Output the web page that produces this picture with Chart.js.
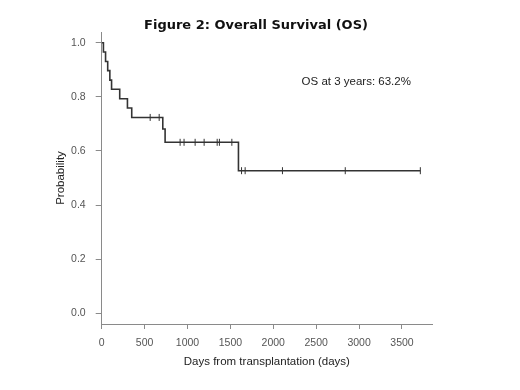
<!DOCTYPE html>
<html>
<head>
<meta charset="utf-8">
<script src="https://cdn.jsdelivr.net/npm/chart.js@4"></script>
<style>
  body { margin: 0; background: #ffffff; }
</style>
</head>
<body>
<canvas id="myChart" width="520" height="390"></canvas>
<script>
const eventDays = [0, 20, 45, 70, 95, 115, 210, 300, 350, 712, 739, 1594, 3714];
const survival = [1.0, 0.966, 0.931, 0.897, 0.862, 0.828, 0.793, 0.759, 0.724, 0.681, 0.632, 0.527, 0.527];

const censorDays = [565, 670, 914, 960, 1089, 1194, 1346, 1372, 1517, 1630, 1672, 2107, 2839, 3714];
const censorSurv = [0.724, 0.724, 0.632, 0.632, 0.632, 0.632, 0.632, 0.632, 0.632, 0.527, 0.527, 0.527, 0.527, 0.527];

const xTicks = [0, 500, 1000, 1500, 2000, 2500, 3000, 3500];
const yTicks = [0, 0.2, 0.4, 0.6, 0.8, 1.0];

const titleText = 'Figure 2: Overall Survival (OS)';
const noteText = 'OS at 3 years: 63.2%';

const axisGrey = '#8a8a8a';
const lineColor = '#333333';

// title + note drawn on top, note placed through the scales
const textPlugin = {
    id: 'textLayer',
    afterDraw(chart) {
        const ctx = chart.ctx;
        const { x, y } = chart.scales;
        ctx.save();
        ctx.fillStyle = '#111111';
        ctx.font = 'bold 13px "DejaVu Sans"';
        ctx.textAlign = 'center';
        ctx.textBaseline = 'middle';
        ctx.fillText(titleText, 256, 26);

        ctx.fillStyle = '#222222';
        ctx.font = '11.5px "Liberation Sans"';
        ctx.textAlign = 'left';
        ctx.fillText(noteText, x.getPixelForValue(2330), y.getPixelForValue(0.855));
        ctx.restore();
    }
};

const data = {
    datasets: [
        {
            label: 'OS',
            data: eventDays.map((d, i) => ({ x: d, y: survival[i] })),
            borderColor: lineColor,
            borderWidth: 1.6,
            stepped: true,
            pointRadius: 0,
            fill: false
        },
        {
            label: 'Censored',
            type: 'scatter',
            data: censorDays.map((d, i) => ({ x: d, y: censorSurv[i] })),
            pointStyle: 'line',
            rotation: 90,
            pointRadius: 3.5,
            borderColor: lineColor,
            borderWidth: 1,
            backgroundColor: lineColor
        }
    ]
};

const config = {
    type: 'line',
    data: data,
    options: {
        responsive: false,
        animation: false,
        layout: {
            padding: { top: 32, left: 54, right: 88, bottom: 21 }
        },
        scales: {
            x: {
                type: 'linear',
                min: 0,
                max: 3850,
                afterBuildTicks: scale => { scale.ticks = xTicks.map(v => ({ value: v })); },
                afterFit: scale => { scale.height = 45; },
                ticks: {
                    color: '#555555',
                    font: { family: '"Liberation Sans"', size: 10.5 },
                    padding: 8,
                    maxRotation: 0,
                    callback: v => String(v)
                },
                grid: {
                    drawOnChartArea: false,
                    drawTicks: true,
                    tickLength: 5,
                    color: axisGrey
                },
                border: { display: true, color: axisGrey, width: 1 },
                title: {
                    display: true,
                    text: 'Days from transplantation (days)',
                    color: '#222222',
                    font: { family: '"Liberation Sans"', size: 11.5 },
                    padding: { top: 0, bottom: 0 }
                }
            },
            y: {
                type: 'linear',
                min: -0.04,
                max: 1.04,
                afterBuildTicks: scale => { scale.ticks = yTicks.map(v => ({ value: v })); },
                afterFit: scale => { scale.width = 47.7; },
                ticks: {
                    color: '#555555',
                    font: { family: '"Liberation Sans"', size: 10.5 },
                    padding: 10,
                    callback: v => v.toFixed(1)
                },
                grid: {
                    drawOnChartArea: false,
                    drawTicks: true,
                    tickLength: 6,
                    color: axisGrey
                },
                border: { display: true, color: axisGrey, width: 1 },
                title: {
                    display: true,
                    text: 'Probability',
                    color: '#222222',
                    font: { family: '"Liberation Sans"', size: 11.5 },
                    padding: { top: 0, bottom: 0 }
                }
            }
        },
        plugins: {
            legend: { display: false },
            tooltip: { enabled: false }
        }
    },
    plugins: [textPlugin]
};

const myChart = new Chart(
    document.getElementById('myChart'),
    config
);
</script>
</body>
</html>
